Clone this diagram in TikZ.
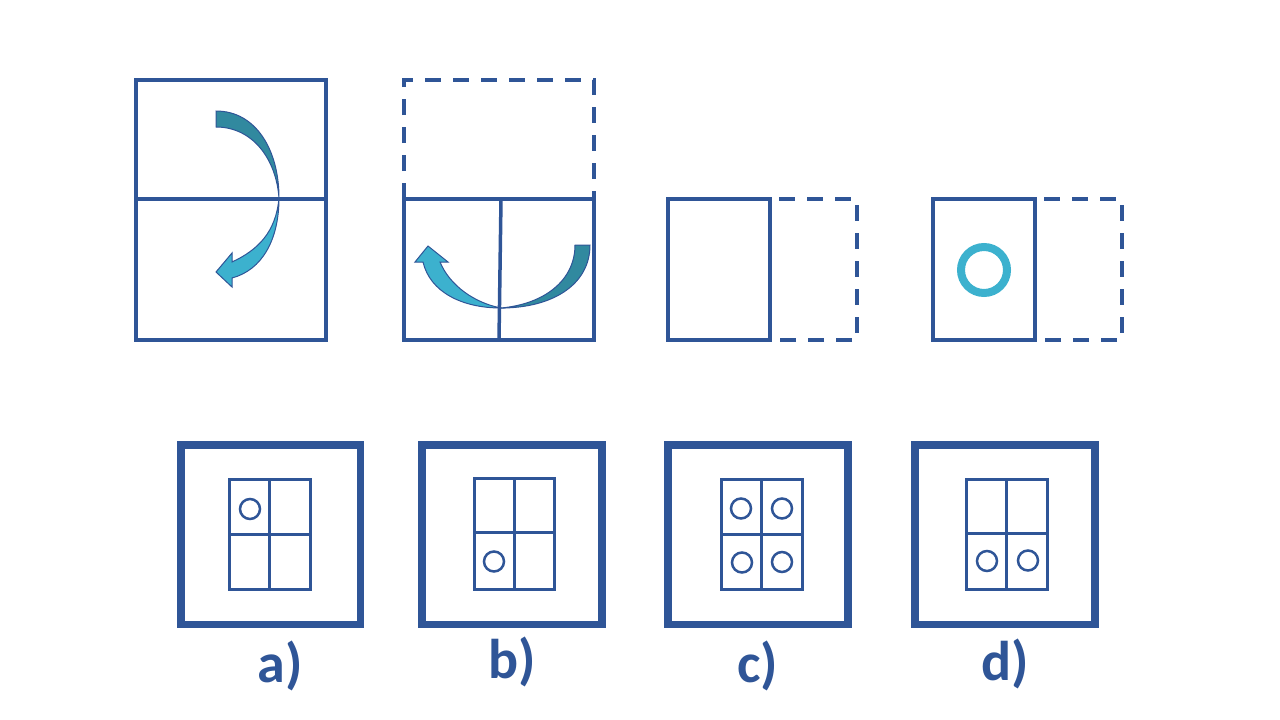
\documentclass[tikz,border=0pt]{standalone}
\usepackage{fontspec}
\setmainfont{Carlito}
\definecolor{dblue}{HTML}{2F5597}
\definecolor{teal1}{HTML}{31899F}
\definecolor{cyan1}{HTML}{3CB1CE}
\begin{document}
\begin{tikzpicture}[x=1pt,y=-1pt,
  panel/.style={draw=dblue,line width=3.5pt},
  dpanel/.style={draw=dblue,line width=3.5pt,dash pattern=on 16pt off 12pt},
  outer/.style={draw=dblue,line width=7.5pt},
  grid/.style={draw=dblue,line width=3pt},
  dot/.style={draw=dblue,line width=2.5pt},
  arrowA/.style={draw=dblue,line width=1pt,fill=teal1},
  arrowB/.style={draw=dblue,line width=1pt,fill=cyan1},
  lbl/.style={text=dblue,font=\fontsize{56}{60}\selectfont\bfseries,inner sep=0pt}]
\useasboundingbox (0,0) rectangle (1280,720);
% ---- panel 1
\draw[panel] (136,80) rectangle (326,340);
\draw[panel] (136,199) -- (326,199);
\draw[arrowA] (216,111) .. controls (256,111) and (279,150) .. (279,198)
   .. controls (276,158) and (252,127) .. (216,127) -- cycle;
\draw[arrowB] (279,198) .. controls (279,240) and (262,270) .. (232,278) -- (232,287) -- (216,272) -- (232,253) -- (232,262)
   .. controls (258,250) and (276,232) .. (279,198) -- cycle;
% ---- panel 2
\draw[dpanel] (404,199) -- (404,80) -- (594,80) -- (594,199);
\draw[panel] (404,199) rectangle (594,340);
\draw[panel] (501,199) -- (499,340);
\draw[arrowA] (590,245) .. controls (590,285) and (552,308) .. (501,308)
   .. controls (545,304) and (575,280) .. (575,245) -- cycle;
\draw[arrowB] (501,308) .. controls (462,308) and (430,292) .. (423,262) -- (415,262) -- (428,246) -- (448,262) -- (440,262)
   .. controls (450,286) and (475,303) .. (501,308) -- cycle;
% ---- panel 3
\draw[panel] (668,199) rectangle (770,340);
\draw[dpanel,dash phase=-9pt] (770,199) -- (857,199) -- (857,340) -- (770,340);
% ---- panel 4
\draw[panel] (933,199) rectangle (1035,340);
\draw[dpanel,dash phase=-9pt] (1035,199) -- (1122,199) -- (1122,340) -- (1035,340);
\draw[cyan1,line width=8pt] (984,270) circle[radius=23];
% ---- answer a
\draw[outer] (181,445) rectangle (360.5,624.5);
\draw[grid] (229,479) rectangle (310,589);
\draw[grid] (269,479) -- (269,589);
\draw[grid] (229,534) -- (310,534);
\draw[dot] (250,509) circle[radius=10];
\node[lbl] (la) at (280,666) {a)};
% ---- answer b
\draw[outer] (422,445) rectangle (602,624.5);
\draw[grid] (474,478) rectangle (554,589);
\draw[grid] (514,478) -- (514,589);
\draw[grid] (474,532.5) -- (554,532.5);
\draw[dot] (494,561.5) circle[radius=10];
\node[lbl] (lb) at (512,662) {b)};
% ---- answer c
\draw[outer] (668,445) rectangle (848,624.5);
\draw[grid] (721,479) rectangle (802,589);
\draw[grid] (761,479) -- (761,589);
\draw[grid] (721,534) -- (802,534);
\draw[dot] (741,508.5) circle[radius=10];
\draw[dot] (782,508.5) circle[radius=10];
\draw[dot] (742,562.5) circle[radius=10];
\draw[dot] (782,562) circle[radius=10];
\node[lbl] (lc) at (758,666) {c)};
% ---- answer d
\draw[outer] (915,445) rectangle (1095,624.5);
\draw[grid] (966,479) rectangle (1047,589);
\draw[grid] (1006.5,479) -- (1006.5,589);
\draw[grid] (966,533.5) -- (1047,533.5);
\draw[dot] (987,561) circle[radius=10];
\draw[dot] (1028,560.5) circle[radius=10];
\node[lbl] (ld) at (1005,664) {d)};
\end{tikzpicture}
\end{document}
